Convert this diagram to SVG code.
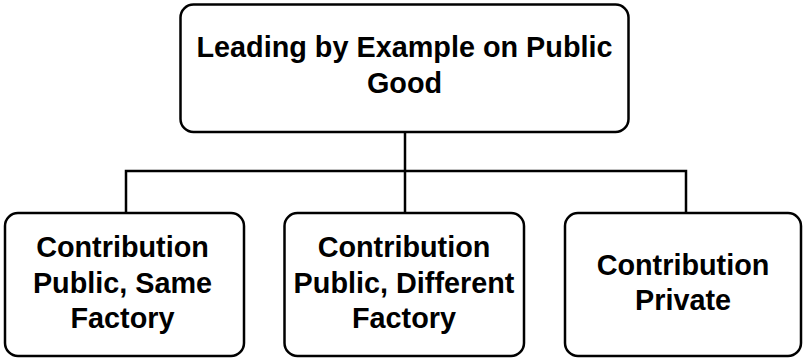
<svg xmlns="http://www.w3.org/2000/svg" width="805" height="359" viewBox="0 0 805 359">
<style>
.box{fill:#fff;stroke:#000;stroke-width:2.5}
.lbl{font-family:"Liberation Sans",Arial,sans-serif;font-weight:bold;font-size:28.8px;fill:#000;text-anchor:middle}
.con{fill:none;stroke:#000;stroke-width:2.5}
</style>
<rect width="805" height="359" fill="#fff"/>
<g id="connectors">
<path class="con" d="M405 132 V213"/>
<path class="con" d="M126 213 V171 H686 V213"/>
</g>
<g id="root">
<rect class="box" x="180.5" y="4.5" width="448" height="127.5" rx="13"/>
<text class="lbl" x="404.5" y="57">Leading by Example on Public</text>
<text class="lbl" x="404.5" y="93">Good</text>
</g>
<g id="same">
<rect class="box" x="5" y="213" width="239" height="143" rx="13"/>
<text class="lbl" x="122.5" y="257">Contribution</text>
<text class="lbl" x="122.5" y="293">Public, Same</text>
<text class="lbl" x="122.5" y="328">Factory</text>
</g>
<g id="different">
<rect class="box" x="284.5" y="213" width="239.5" height="143" rx="13"/>
<text class="lbl" x="404" y="257">Contribution</text>
<text class="lbl" x="404" y="293">Public, Different</text>
<text class="lbl" x="404" y="328">Factory</text>
</g>
<g id="private">
<rect class="box" x="565" y="213" width="236" height="143" rx="13"/>
<text class="lbl" x="683" y="275">Contribution</text>
<text class="lbl" x="683" y="310">Private</text>
</g>
</svg>
